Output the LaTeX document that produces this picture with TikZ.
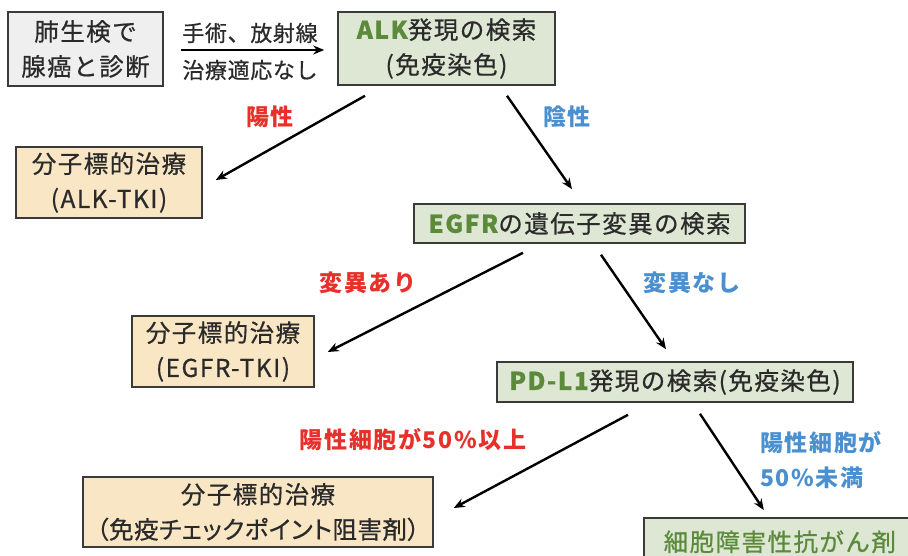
\documentclass[tikz,border=0pt]{standalone}
\usepackage{fontspec}
\setmainfont{Noto Sans CJK JP}
\usetikzlibrary{arrows.meta}
\definecolor{boxline}{HTML}{3A3A3A}
\definecolor{grayfill}{HTML}{EFEFEF}
\definecolor{greenfill}{HTML}{DDE7D3}
\definecolor{tanfill}{HTML}{F8E6C4}
\definecolor{gtext}{HTML}{5A8A3A}
\definecolor{rtext}{HTML}{E8302A}
\definecolor{btext}{HTML}{4A90D0}
\definecolor{ktext}{HTML}{2A2A2A}
\tikzset{
  box/.style={draw=boxline, line width=1.6pt, inner sep=0pt, align=center, text=ktext,
    font=\fontsize{24.5}{35}\selectfont\addfontfeatures{LetterSpace=6,FakeBold=0.6}},
  graybox/.style={box, fill=grayfill},
  greenbox/.style={box, fill=greenfill},
  tanbox/.style={box, fill=tanfill},
  lab/.style={font=\fontsize{23}{35}\selectfont\bfseries\addfontfeatures{LetterSpace=7}, inner sep=0pt},
  redlab/.style={lab, text=rtext},
  bluelab/.style={lab, text=btext},
  edgelab/.style={font=\fontsize{22}{35}\selectfont\addfontfeatures{LetterSpace=3,FakeBold=0.6}, text=ktext, inner sep=0pt},
  arr/.style={-{Stealth[length=11pt,width=9pt]}, line width=2.4pt, black},
}
\begin{document}
\begin{tikzpicture}[x=1pt,y=1pt]
\useasboundingbox (0,0) rectangle (908,-556);
\node[graybox, minimum width=155pt, minimum height=74pt] (diag) at (85.5,-49) {肺生検で\\腺癌と診断};
\node[greenbox, minimum width=217pt, minimum height=73pt] (alk) at (446.5,-48.5) {{\color{gtext}\bfseries ALK}発現の検索\\(免疫染色)};
\node[tanbox, minimum width=186pt, minimum height=71pt] (tki1) at (109,-182.5) {分子標的治療\\(ALK-TKI)};
\node[greenbox, minimum width=331pt, minimum height=39pt] (egfr) at (579.5,-223.5) {{\color{gtext}\bfseries EGFR}の遺伝子変異の検索};
\node[tanbox, minimum width=182pt, minimum height=71pt] (tki2) at (223,-351.5) {分子標的治療\\(EGFR-TKI)};
\node[greenbox, minimum width=356pt, minimum height=40pt] (pdl1) at (675,-382) {{\color{gtext}\bfseries PD-L1}発現の検索(免疫染色)};
\node[tanbox, minimum width=350pt, minimum height=70pt] (icb) at (258,-512) {分子標的治療\\{\addfontfeatures{RawFeature=+palt,LetterSpace=2}（免疫チェックポイント阻害剤）}};
\node[greenbox, minimum width=272pt, minimum height=48pt, text=gtext, anchor=north west] (chemo) at (643,-517) {細胞障害性抗がん剤};

\node[edgelab] (e1a) at (250,-33) {手術、放射線};
\node[edgelab] (e1b) at (250,-70) {治療適応なし};
\node[redlab] (l1) at (270,-117) {陽性};
\node[bluelab] (l2) at (567,-117) {陰性};
\node[redlab] (l3) at (368,-283) {変異あり};
\node[bluelab] (l4) at (692,-283) {変異なし};
\node[redlab] (l5) at (413,-440) {陽性細胞が50\%以上};
\node[bluelab, align=left, anchor=west] (l6) at (760,-460) {陽性細胞が\\50\%未満};

\draw[arr] ([xshift=17pt,yshift=-1pt]diag.east) -- ([xshift=-13pt,yshift=-1.5pt]alk.west);
\draw[arr] ([xshift=-81.5pt,yshift=-10pt]alk.south) -- ([xshift=13pt,yshift=2.5pt]tki1.east);
\draw[arr] ([xshift=60.5pt,yshift=-10pt]alk.south) -- ([xshift=-7.5pt,yshift=14pt]egfr.north);
\draw[arr] ([xshift=-56.5pt,yshift=-9pt]egfr.south) -- ([xshift=13pt,yshift=-0.5pt]tki2.east);
\draw[arr] ([xshift=21.5pt,yshift=-11pt]egfr.south) -- ([xshift=-9pt,yshift=12pt]pdl1.north);
\draw[arr] ([xshift=-47pt,yshift=-12pt]pdl1.south) -- ([xshift=20pt,yshift=4pt]icb.east);
\draw[arr] ([xshift=25pt,yshift=-11pt]pdl1.south) -- ([xshift=-16pt,yshift=7pt]chemo.north);
\end{tikzpicture}
\end{document}
